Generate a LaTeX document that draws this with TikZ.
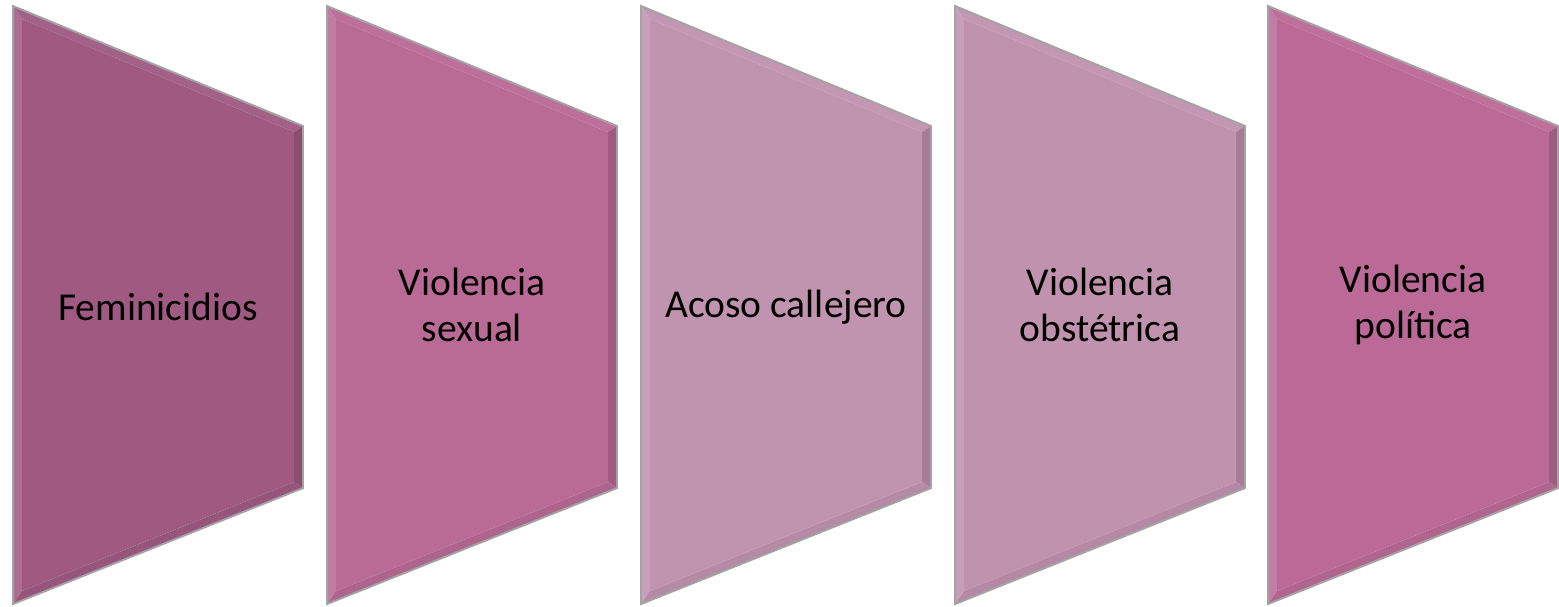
\documentclass[tikz,border=0pt]{standalone}
\usepackage{fontspec}
\setmainfont{Carlito}
\usetikzlibrary{positioning}
\definecolor{plumA}{HTML}{A05A82}
\definecolor{plumB}{HTML}{B96A95}
\definecolor{plumC}{HTML}{C093AF}
\definecolor{plumD}{HTML}{C092AE}
\definecolor{plumE}{HTML}{BB6A97}
\definecolor{edgegray}{HTML}{A3A3A3}
\tikzset{
stage/.style={draw=edgegray,line width=1.1pt,line join=miter},
txt/.style={font=\fontsize{22.5}{26}\selectfont,align=center,text=black}
}

\begin{document}
\begin{tikzpicture}[x=0.02cm,y=-0.02cm]
\useasboundingbox (0,0) rectangle (1559,606);
% the five bevelled panels
\foreach \xo/\c in {13/plumA,327/plumB,641/plumC,955/plumD,1268/plumE}{
\begin{scope}[shift={(\xo,0)}]
\fill[\c!88!white] (0,6) -- (9,19) -- (9,591) -- (0,604) -- cycle;
\fill[\c!96!white] (0,6) -- (290,126) -- (281,132) -- (9,19) -- cycle;
\fill[\c!86!black] (290,126) -- (290,488) -- (281,482) -- (281,132) -- cycle;
\fill[\c!94!black] (0,604) -- (290,488) -- (281,482) -- (9,591) -- cycle;
\fill[\c] (9,19) -- (281,132) -- (281,482) -- (9,591) -- cycle;
\draw[stage] (0,6) -- (290,126) -- (290,488) -- (0,604) -- cycle;
\end{scope}
}
\node[txt] (femi) at (158,307) {Feminicidios};
\node[txt] (sexual) at (472,305) {Violencia\\sexual};
\node[txt] (acoso) at (786,307) {Acoso callejero};
\node[txt] (obst) at (1100,305) {Violencia\\obstétrica};
\node[txt] (poli) at (1413,305) {Violencia\\política};
\end{tikzpicture}
\end{document}
